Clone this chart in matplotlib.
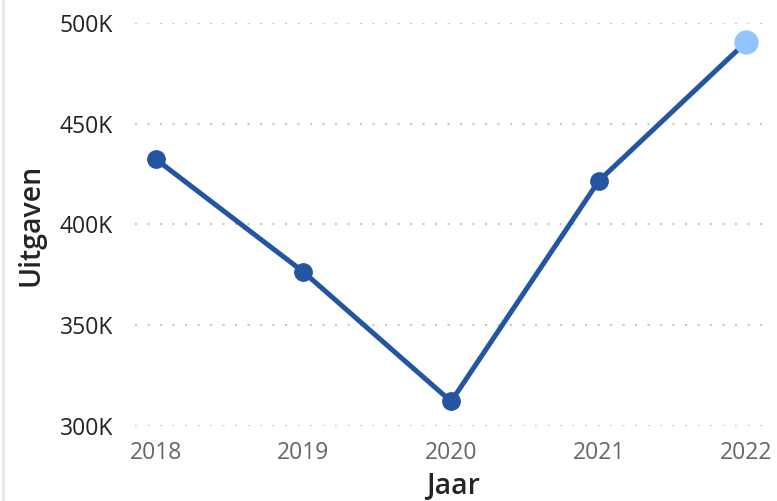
import matplotlib.pyplot as plt
from matplotlib.ticker import FuncFormatter
from matplotlib.lines import Line2D

plt.rcParams['font.family'] = ['Open Sans', 'DejaVu Sans']

jaren = [2018, 2019, 2020, 2021, 2022]
uitgaven = [432400, 376400, 312100, 421600, 490700]
yticks = [300000, 350000, 400000, 450000, 500000]

donker = '#2355a0'
licht = '#94c4ff'

fig = plt.figure(figsize=(7.77, 5.01), dpi=100)
ax = fig.add_axes([0.174, 0.150, 0.817, 0.804])

ax.plot(jaren, uitgaven, color=donker, linewidth=3.6, solid_capstyle='round', zorder=3)
ax.plot(jaren[:-1], uitgaven[:-1], 'o', color=donker, markersize=12.5, zorder=4, clip_on=False)
ax.plot(jaren[-1:], uitgaven[-1:], 'o', color=licht, markersize=16.5, zorder=5, clip_on=False)

ax.set_xlim(2017.86, 2022.16)
ax.set_ylim(300000, 500000)
ax.set_xticks(jaren)
ax.set_yticks(yticks)
ax.yaxis.set_major_formatter(FuncFormatter(lambda v, p: f'{int(v / 1000)}K'))

ax.grid(axis='y', color='#c8c8c8', linestyle=(0, (1, 5)), linewidth=1.5)
ax.set_axisbelow(True)
for s in ax.spines.values():
    s.set_visible(False)
ax.tick_params(axis='both', length=0)
ax.tick_params(axis='y', labelsize=16.5, labelcolor='#222222', pad=16)
ax.tick_params(axis='x', labelsize=16.5, labelcolor='#666666', pad=11)

ax.set_xlabel('Jaar', fontsize=20.5, color='#252423', fontweight='semibold', labelpad=4)
ax.set_ylabel('Uitgaven', fontsize=20.5, color='#252423', fontweight='semibold', labelpad=10)

fig.add_artist(Line2D([0.004, 0.004], [0, 1], color='#e6e6e6', linewidth=2, transform=fig.transFigure))

fig.savefig('out.png', dpi=100)
